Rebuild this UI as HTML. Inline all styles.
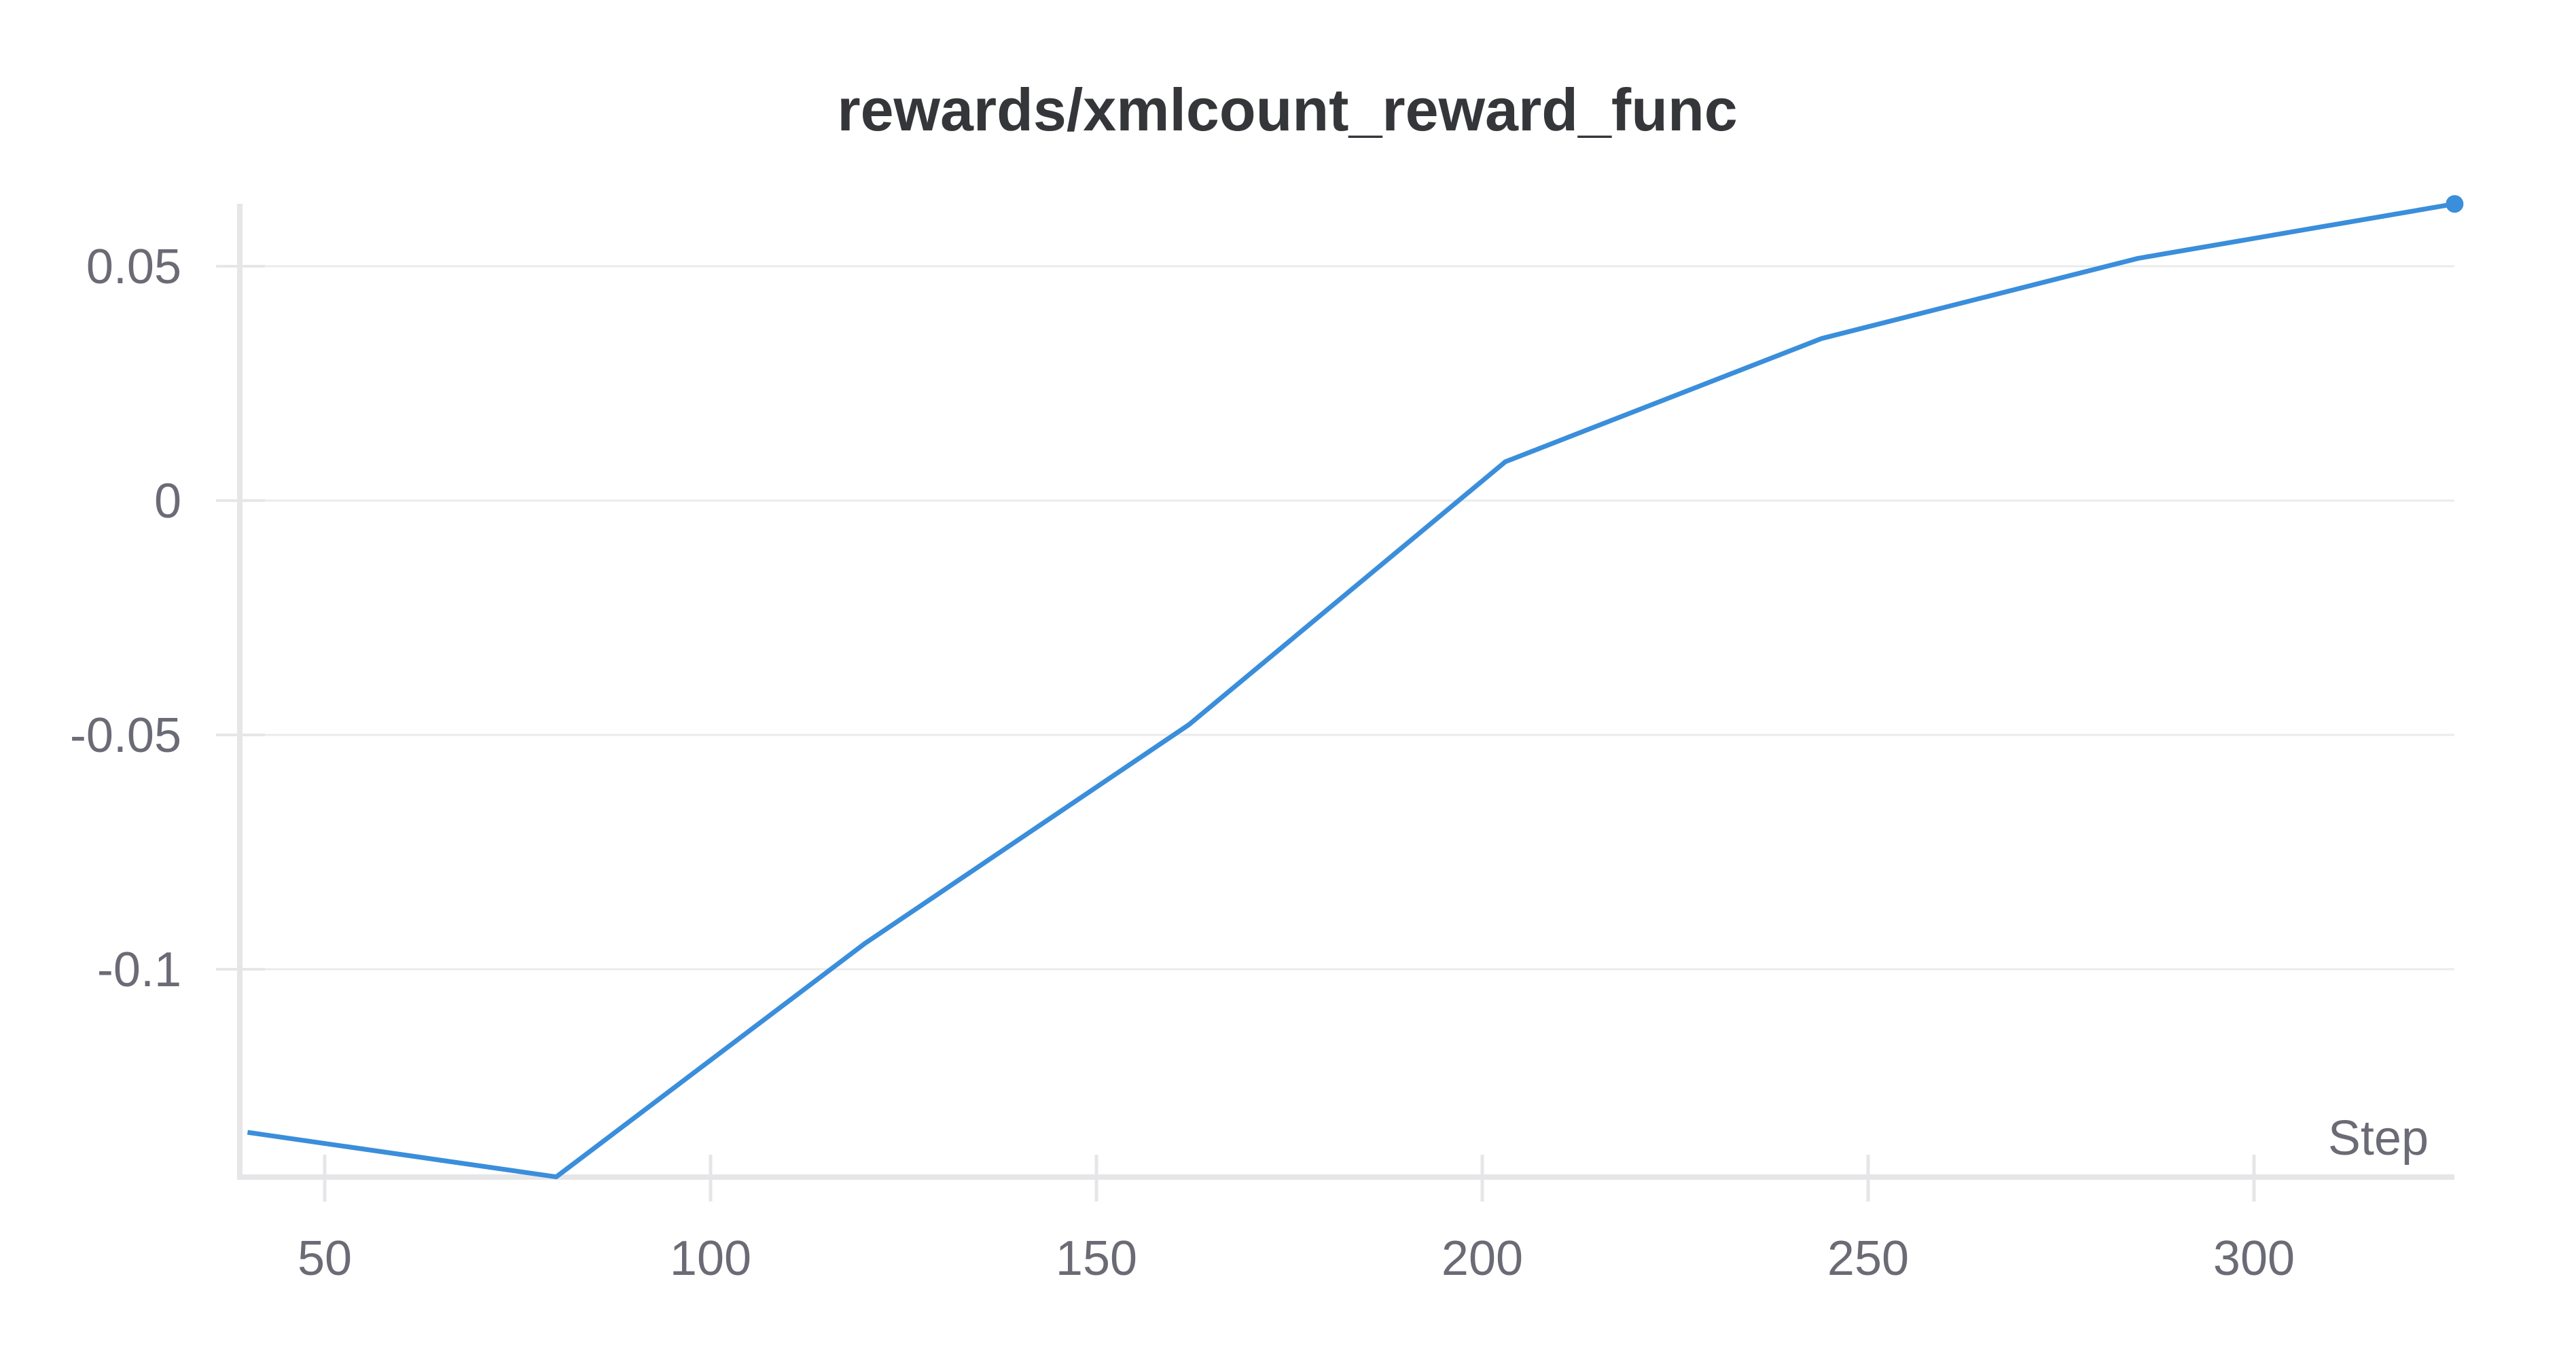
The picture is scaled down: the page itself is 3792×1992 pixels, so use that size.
<!DOCTYPE html>
<html><head><meta charset="utf-8"><style>
html,body{margin:0;padding:0;background:#fff;}
svg{display:block;font-family:"Liberation Sans",sans-serif;}
</style></head><body>
<svg id="chart" width="3792" height="1992" viewBox="0 0 3792 1992" xmlns="http://www.w3.org/2000/svg">
<text x="1895" y="192" text-anchor="middle" font-size="88" font-weight="bold" fill="#35363a">rewards/xmlcount_reward_func</text>
<g id="grid"></g>
<g id="axes"></g>
<g id="series"></g>
</svg>
<script>
const steps = [40, 80, 120, 162, 203, 244, 285, 326];
const values = [-0.1348, -0.1443, -0.0945, -0.0478, 0.0083, 0.0346, 0.0517, 0.0633];
const yTicks = [0.05, 0, -0.05, -0.1];
const yTickLabels = ["0.05", "0", "-0.05", "-0.1"];
const xTicks = [50, 100, 150, 200, 250, 300];
const xTickLabels = ["50", "100", "150", "200", "250", "300"];

const NS = "http://www.w3.org/2000/svg";
const X0 = 353, X1 = 3613, YT = 300, YB = 1733;
function xs(s){ return 478 + (s - 50) * 11.36; }
function ys(v){ return 737 - v * 6900; }
function mk(tag, attrs, parent){
  const e = document.createElementNS(NS, tag);
  for (const k in attrs) e.setAttribute(k, attrs[k]);
  parent.appendChild(e); return e;
}
const grid = document.getElementById('grid');
const axes = document.getElementById('axes');
const series = document.getElementById('series');

yTicks.forEach((t, i) => {
  const y = ys(t);
  const g = mk('line', {x1: X0, x2: X1, y1: y, y2: y, stroke: '#ebebeb', 'stroke-width': 3}, grid);
  
  
  const tk = mk('line', {x1: 318, x2: 390, y1: y, y2: y, stroke: '#e6e6e8', 'stroke-width': 4}, axes);
  
  
  const tx = mk('text', {x: 267, y: y + 25, 'text-anchor': 'end', 'font-size': 72, fill: '#6b6b76'}, axes);
  tx.textContent = yTickLabels[i];
  
  
});
xTicks.forEach((t, i) => {
  const x = xs(t);
  const tk = mk('line', {x1: x, x2: x, y1: 1700, y2: 1769, stroke: '#e6e6e8', 'stroke-width': 5}, axes);
  
  
  const tx = mk('text', {x: x, y: 1877, 'text-anchor': 'middle', 'font-size': 72, fill: '#6b6b76'}, axes);
  tx.textContent = xTickLabels[i];
  
  
});
const ya = mk('line', {x1: X0, x2: X0, y1: YT, y2: YB + 4, stroke: '#e6e6e8', 'stroke-width': 8}, axes);


const xa = mk('line', {x1: X0, x2: X1, y1: YB, y2: YB, stroke: '#e6e6e8', 'stroke-width': 8}, axes);


const st = mk('text', {x: 3575, y: 1700, 'text-anchor': 'end', 'font-size': 72, fill: '#6b6b76'}, axes);
st.textContent = 'Step';



const pts = steps.map((s, i) => xs(s).toFixed(1) + ',' + ys(values[i]).toFixed(1)).join(' ');
const pl = mk('polyline', {points: pts, fill: 'none', stroke: '#3a8edb', 'stroke-width': 7, 'stroke-linejoin': 'round'}, series);


const last = steps.length - 1;
const dot = mk('circle', {cx: xs(steps[last]), cy: ys(values[last]), r: 13, fill: '#3a8edb'}, series);


</script>
</body></html>
